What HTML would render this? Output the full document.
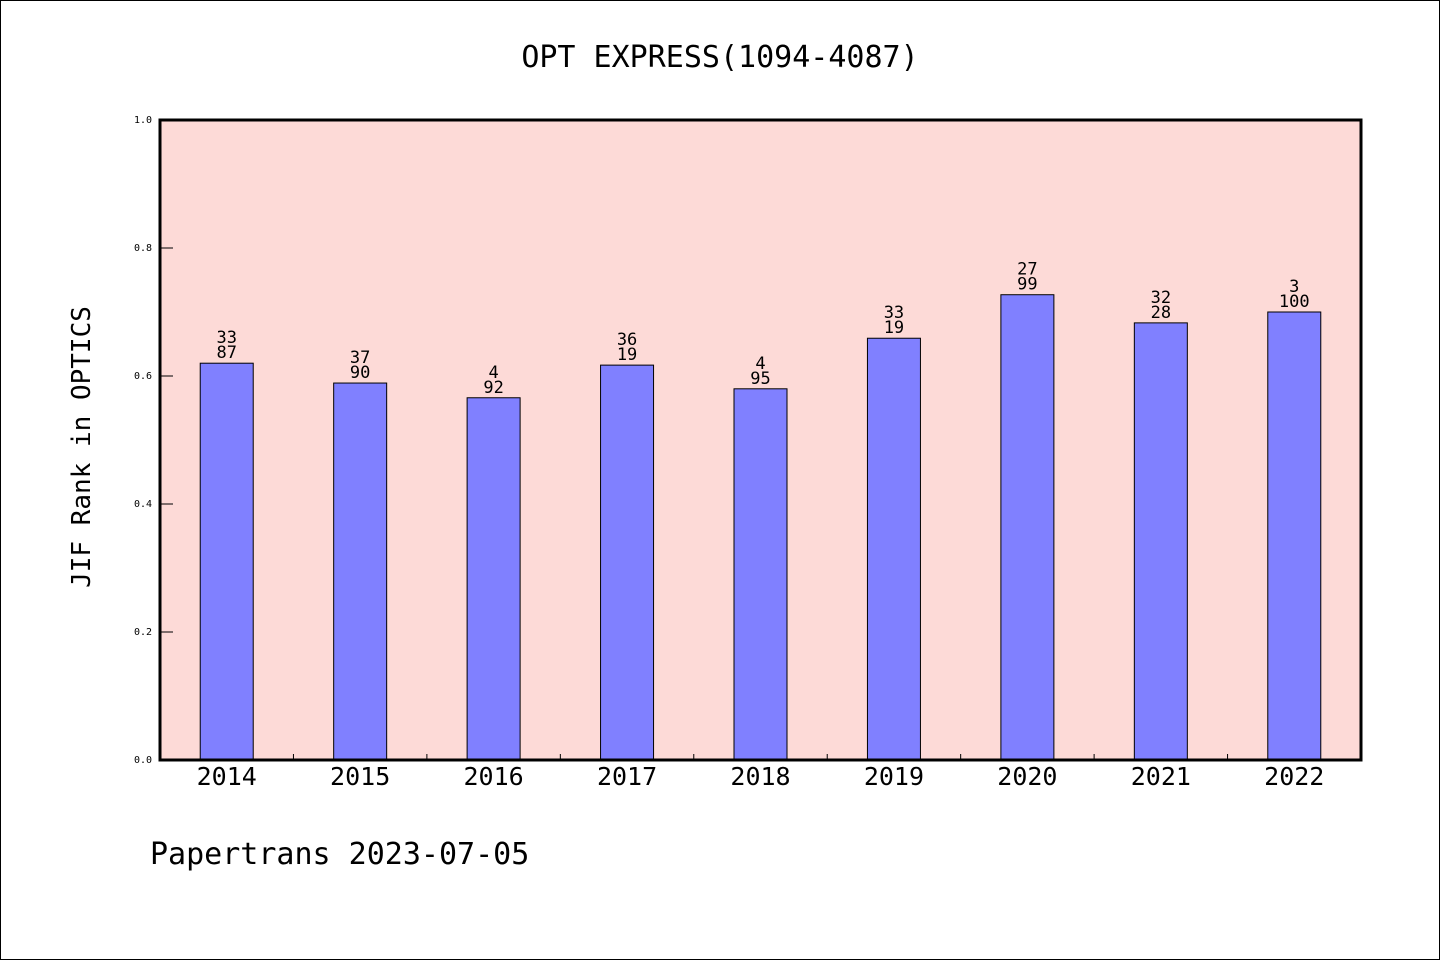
<!DOCTYPE html>
<html><head><meta charset="utf-8"><style>
html,body{margin:0;padding:0;background:#fff}
svg{display:block}
text{font-family:"WenQuanYi Zen Hei Mono","WenQuanYi Zen Hei","DejaVu Sans Mono",monospace;fill:#000}
</style></head><body>
<svg id="chart" width="1440" height="960" xmlns="http://www.w3.org/2000/svg">
<rect x="0.5" y="0.5" width="1439" height="959" fill="#fff" stroke="#000"/>
<rect x="160" y="120" width="1201" height="640" fill="#fddad7"/>
<text x="720" y="67" font-size="30" text-anchor="middle">OPT EXPRESS(1094-4087)</text>
<text transform="translate(90,447) rotate(-90)" font-size="26" text-anchor="middle">JIF Rank in OPTICS</text>
<text x="150" y="864" font-size="30">Papertrans 2023-07-05</text>
<g id="marks"></g>
<rect x="160" y="120" width="1201" height="640" fill="none" stroke="#000" stroke-width="3"/>
</svg>
<script>
const categories = ["2014","2015","2016","2017","2018","2019","2020","2021","2022"];
const values = [0.620,0.589,0.566,0.617,0.580,0.659,0.727,0.683,0.700];
const rankTop = ["33","37","4","36","4","33","27","32","3"];
const rankBottom = ["87","90","92","19","95","19","99","28","100"];
const yTicks = [0,0.2,0.4,0.6,0.8,1.0];
const yTickLabels = ["0.0","0.2","0.4","0.6","0.8","1.0"];

const NS="http://www.w3.org/2000/svg";
const g=document.getElementById('marks');
const x0=160,x1=1361,y0=760,y1=120;
const band=(x1-x0)/categories.length;
const xc=i=>x0+band*(i+0.5);
const y=v=>y0-(y0-y1)*v;
function mk(tag,attrs){const e=document.createElementNS(NS,tag);for(const k in attrs)e.setAttribute(k,attrs[k]);g.appendChild(e);return e;}
yTicks.forEach((t,i)=>{
  const l=mk('line',{x1:x0,x2:x0+13,y1:y(t),y2:y(t),stroke:'#000','stroke-width':1});
  
  
  const tx=mk('text',{x:152,y:y(t)+3,'font-size':10,'text-anchor':'end'});
  tx.textContent=yTickLabels[i];
  
  
});
for(let i=1;i<categories.length;i++){
  const l=mk('line',{x1:x0+band*i,x2:x0+band*i,y1:y0,y2:y0-6,stroke:'#000','stroke-width':1});
  
  
}
const bw=53;
categories.forEach((c,i)=>{
  const b=mk('rect',{x:xc(i)-bw/2,y:y(values[i]),width:bw,height:y0-y(values[i]),fill:'#8080ff',stroke:'#000','stroke-width':1});
  
  
  const t1=mk('text',{x:xc(i),y:y(values[i])-20,'font-size':17,'text-anchor':'middle'});
  t1.textContent=rankTop[i];
  
  
  const t2=mk('text',{x:xc(i),y:y(values[i])-5,'font-size':17,'text-anchor':'middle'});
  t2.textContent=rankBottom[i];
  
  
  const xl=mk('text',{x:xc(i),y:785,'font-size':25,'text-anchor':'middle'});
  xl.textContent=c;
  
  
});
</script>
</body></html>
